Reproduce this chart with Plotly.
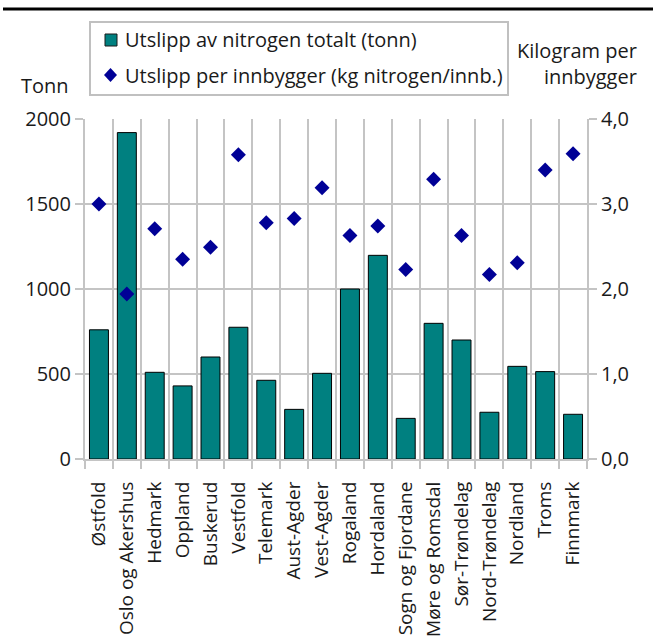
import plotly.graph_objects as go

# Fylker (counties)
fylker = [
    "Østfold", "Oslo og Akershus", "Hedmark", "Oppland", "Buskerud",
    "Vestfold", "Telemark", "Aust-Agder", "Vest-Agder", "Rogaland",
    "Hordaland", "Sogn og Fjordane", "Møre og Romsdal", "Sør-Trøndelag",
    "Nord-Trøndelag", "Nordland", "Troms", "Finnmark",
]
# Total nitrogen discharge, tonnes
utslipp_tonn = [760, 1920, 510, 430, 600, 775, 463, 292, 504, 1000,
                1198, 239, 798, 700, 275, 545, 514, 263]
# Discharge per inhabitant, kg nitrogen per person
utslipp_per_innb = [3.00, 1.94, 2.71, 2.35, 2.49, 3.58, 2.78, 2.83, 3.19,
                    2.63, 2.74, 2.23, 3.29, 2.63, 2.17, 2.31, 3.40, 3.59]

left_ticks = [0, 500, 1000, 1500, 2000]
right_ticks = [0, 1, 2, 3, 4]
right_labels = ["0,0", "1,0", "2,0", "3,0", "4,0"]

navn_tonn = "Utslipp av nitrogen totalt (tonn)"
navn_per_innb = "Utslipp per innbygger (kg nitrogen/innb.)"

TEAL = "#008080"
NAVY = "#000096"
GRID = "#c4c4c4"
TXT = "#1a1a1a"
FONT = "Open Sans"
FS = 20
W, H = 653, 637
L, R, T, B = 85, 66, 119, 178
pw, ph = W - L - R, H - T - B


def px(x):
    """Pixel column -> paper x."""
    return (x - L) / pw


def py(y):
    """Pixel row (from top) -> paper y."""
    return (H - B - y) / ph


fig = go.Figure()
fig.add_trace(go.Bar(
    x=fylker, y=utslipp_tonn, name=navn_tonn,
    marker=dict(color=TEAL, line=dict(color="#000000", width=1)),
    yaxis="y",
))
fig.add_trace(go.Scatter(
    x=fylker, y=utslipp_per_innb, name=navn_per_innb,
    mode="markers",
    marker=dict(symbol="diamond", size=11.5, color=NAVY),
    yaxis="y2",
))

axis_common = dict(
    automargin=False,
    showline=True, linecolor=GRID, linewidth=2,
    ticks="outside", ticklen=8, tickcolor=GRID, tickwidth=2,
    tickfont=dict(family=FONT, size=FS, color=TXT),
)

# Hand-built legend box with its two keys
legend_shapes = [
    dict(type="rect", xref="paper", yref="paper",
         x0=px(90), x1=px(508), y0=py(95), y1=py(22),
         line=dict(color="#c0c0c0", width=2), fillcolor="white", layer="above"),
    dict(type="rect", xref="paper", yref="paper",
         x0=px(105), x1=px(117), y0=py(46), y1=py(34),
         line=dict(color="#1a1a1a", width=1), fillcolor=TEAL, layer="above"),
    dict(type="path", xref="paper", yref="paper",
         path=(f"M {px(104)} {py(75)} L {px(110.5)} {py(68)} "
               f"L {px(117)} {py(75)} L {px(110.5)} {py(82)} Z"),
         line=dict(color=NAVY, width=0), fillcolor=NAVY, layer="above"),
]

fig.update_layout(
    width=W, height=H,
    margin=dict(l=L, r=R, t=T, b=B, pad=0, autoexpand=False),
    paper_bgcolor="white", plot_bgcolor="white",
    font=dict(family=FONT, size=FS, color=TXT),
    bargap=0.32,
    showlegend=False,
    xaxis=dict(
        type="category", tickson="boundaries", range=[-0.5, 17.5],
        showgrid=True, gridcolor=GRID, gridwidth=2,
        tickangle=-90, ticklabelstandoff=13,
        **{**axis_common,
           "tickfont": dict(family=FONT, size=19, color=TXT)},
    ),
    yaxis=dict(
        range=[0, 2000], tickvals=left_ticks,
        showgrid=True, gridcolor=GRID, gridwidth=2, zeroline=False,
        **axis_common,
    ),
    yaxis2=dict(
        range=[0, 4], tickvals=right_ticks, ticktext=right_labels,
        overlaying="y", side="right", showgrid=False, zeroline=False,
        **axis_common,
    ),
    annotations=[
        dict(text="Tonn", xref="paper", yref="paper", x=px(45), y=py(86),
             xanchor="center", yanchor="middle", showarrow=False),
        dict(text="Kilogram per<br>innbygger", xref="paper", yref="paper",
             x=px(639), y=py(64), xanchor="right", yanchor="middle",
             align="right", showarrow=False),
        dict(text=navn_tonn, xref="paper", yref="paper", x=px(123), y=py(40),
             xanchor="left", yanchor="middle", showarrow=False),
        dict(text=navn_per_innb, xref="paper", yref="paper", x=px(123),
             y=py(75), xanchor="left", yanchor="middle", showarrow=False),
    ],
    shapes=[
        dict(type="line", xref="paper", yref="paper",
             x0=px(3), x1=px(653), y0=py(9), y1=py(9),
             line=dict(color="black", width=3)),
    ] + legend_shapes,
)

fig.write_html("out.html")
